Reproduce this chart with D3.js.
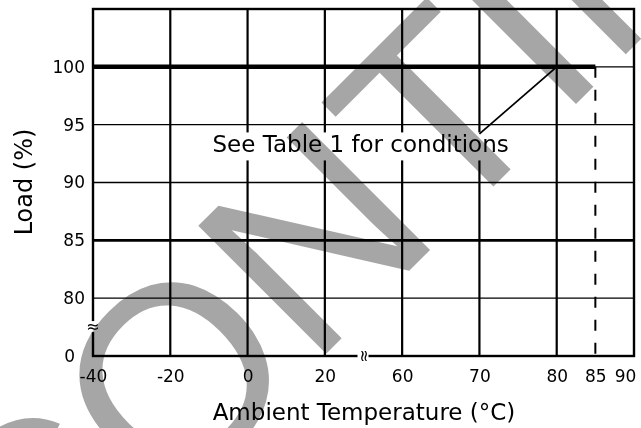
<!DOCTYPE html>
<html>
<head>
<meta charset="utf-8">
<script src="https://cdn.jsdelivr.net/npm/d3@7"></script>
<style>
  body { margin: 0; background: #fff; }
  svg { display: block; }
  .tick text { font-family: 'DejaVu Sans', Verdana, sans-serif; font-size: 17px; fill: #000; }
</style>
</head>
<body>
<div id="chart"></div>
<script>
// data
var xTicks = [-40, -20, 0, 20, 60, 70, 80, 85, 90];
var yTicks = [0, 80, 85, 90, 95, 100];
var vGrid = [-20, 0, 20, 60, 70, 80];
var hGridThin = [80, 90, 95, 100];
var hGridBold = [85];
var curveTemp = [-40, 85];
var curveLoad = [100, 100];
var cutoffTemp = [85, 85];
var cutoffLoad = [100, 0];
var noteText = 'See Table 1 for conditions';
var leaderTemp = [80, 70];
var leaderLoad = [100, 94.2];

// set up chart
var svgWidth = 641;
var svgHeight = 428;
var margin = { top: 9, right: 7, bottom: 72, left: 93 };
var width = svgWidth - margin.left - margin.right;
var height = svgHeight - margin.top - margin.bottom;
var stepX = width / 7;
var stepY = height / 6;

var svg = d3.select('#chart')
  .append('svg')
  .attr('width', svgWidth)
  .attr('height', svgHeight);

var g = svg.append('g')
  .attr('transform', `translate(${margin.left}, ${margin.top})`);

// broken axes -> piecewise scales
var xScale = d3.scaleLinear()
  .domain([-40, 20, 60, 90])
  .range([0, 3 * stepX, 4 * stepX, 7 * stepX]);

var yScale = d3.scaleLinear()
  .domain([0, 80, 105])
  .range([height, height - stepY, 0]);

// grid
g.selectAll('.vgrid')
  .data(vGrid)
  .enter()
  .append('line')
  .attr('x1', d => xScale(d)).attr('x2', d => xScale(d))
  .attr('y1', 0).attr('y2', height)
  .attr('stroke', '#000')
  .attr('stroke-width', 2.2);

g.selectAll('.hgrid')
  .data(hGridThin)
  .enter()
  .append('line')
  .attr('x1', 0).attr('x2', width)
  .attr('y1', d => yScale(d)).attr('y2', d => yScale(d))
  .attr('stroke', '#000')
  .attr('stroke-width', 1.3);

g.selectAll('.hgridb')
  .data(hGridBold)
  .enter()
  .append('line')
  .attr('x1', 0).attr('x2', width)
  .attr('y1', d => yScale(d)).attr('y2', d => yScale(d))
  .attr('stroke', '#000')
  .attr('stroke-width', 2.6);

// frame
g.append('rect')
  .attr('x', 0).attr('y', 0)
  .attr('width', width).attr('height', height)
  .attr('fill', 'none')
  .attr('stroke', '#000')
  .attr('stroke-width', 2.4);

// derating curve
var line = d3.line()
  .x(d => xScale(d[0]))
  .y(d => yScale(d[1]));

g.append('path')
  .datum(d3.zip(curveTemp, curveLoad))
  .attr('d', line)
  .attr('fill', 'none')
  .attr('stroke', '#000')
  .attr('stroke-width', 4.5);

g.append('path')
  .datum(d3.zip(cutoffTemp, cutoffLoad))
  .attr('d', line)
  .attr('fill', 'none')
  .attr('stroke', '#000')
  .attr('stroke-width', 2)
  .attr('stroke-dasharray', '11,12');

// note with white box behind it
var noteX = 38.5;
var noteY = 92.6;
g.append('rect')
  .attr('x', xScale(noteX) - 160)
  .attr('y', yScale(noteY) - 20)
  .attr('width', 320)
  .attr('height', 28)
  .attr('fill', '#fff');

g.append('path')
  .datum(d3.zip(leaderTemp, leaderLoad))
  .attr('d', line)
  .attr('fill', 'none')
  .attr('stroke', '#000')
  .attr('stroke-width', 1.8);

// axes (labels only)
var bottomAxis = d3.axisBottom(xScale)
  .tickValues(xTicks)
  .tickFormat(d => String(d))
  .tickSize(0)
  .tickPadding(14);
var leftAxis = d3.axisLeft(yScale)
  .tickValues(yTicks)
  .tickFormat(d => String(d))
  .tickSize(0)
  .tickPadding(8);

var xAxisG = g.append('g')
  .attr('transform', `translate(0, ${height})`)
  .call(bottomAxis);
xAxisG.select('.domain').remove();
xAxisG.selectAll('.tick text')
  .attr('dy', '0.71em')
  .attr('dx', d => d === 90 ? -9 : 0);

var yAxisG = g.append('g').call(leftAxis);
yAxisG.select('.domain').remove();
yAxisG.selectAll('.tick text')
  .attr('dx', d => d === 0 ? -10 : 0)
  .attr('dy', '0.32em');

// axis break marks
g.append('rect')
  .attr('x', -4).attr('y', yScale(40) - 6)
  .attr('width', 8).attr('height', 11)
  .attr('fill', '#fff');
g.append('text')
  .attr('x', 0).attr('y', yScale(40) + 5)
  .attr('text-anchor', 'middle')
  .style('font-family', 'DejaVu Sans')
  .style('font-size', '16px')
  .text('≈');

g.append('rect')
  .attr('x', xScale(40) - 6).attr('y', height - 4)
  .attr('width', 11).attr('height', 8)
  .attr('fill', '#fff');
g.append('text')
  .attr('transform', `translate(${xScale(40)}, ${height}) rotate(90)`)
  .attr('y', 5)
  .attr('text-anchor', 'middle')
  .style('font-family', 'DejaVu Sans')
  .style('font-size', '16px')
  .text('≈');

// watermark
svg.append('text')
  .attr('transform', 'translate(-278, 958) rotate(-45)')
  .style('font-family', '"Liberation Sans", Arial, sans-serif')
  .style('font-size', '263px')
  .style('mix-blend-mode', 'multiply')
  .attr('fill', '#a6a6a6')
  .text('DISCONTINUED');

// note text on top
g.append('text')
  .attr('x', xScale(noteX))
  .attr('y', yScale(noteY))
  .attr('text-anchor', 'middle')
  .style('font-family', 'DejaVu Sans')
  .style('font-size', '23px')
  .text(noteText);

// axis titles
svg.append('text')
  .attr('x', 364)
  .attr('y', 420)
  .attr('text-anchor', 'middle')
  .style('font-family', 'DejaVu Sans')
  .style('font-size', '23px')
  .text('Ambient Temperature (°C)');

svg.append('text')
  .attr('transform', 'translate(32, 182) rotate(-90)')
  .attr('text-anchor', 'middle')
  .style('font-family', 'DejaVu Sans')
  .style('font-size', '24px')
  .text('Load (%)');
</script>
</body>
</html>
